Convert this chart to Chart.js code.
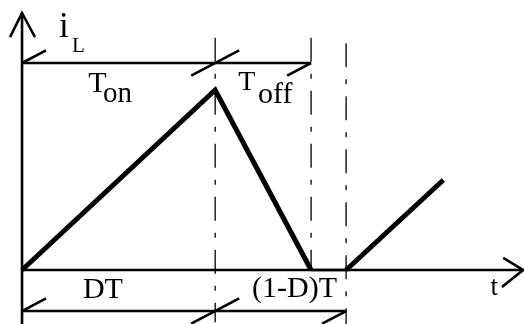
<!DOCTYPE html>
<html lang="en">
  <head>
    <meta charset="UTF-8" />
    <title>Inductor current, discontinuous mode</title>
    <style>
      html,
      body {
        margin: 0;
        padding: 0;
        background: #fff;
      }
      #wrap {
        width: 524px;
        height: 324px;
        position: relative;
      }
    </style>
  </head>
  <body>
    <div id="wrap"><canvas id="myChart"></canvas></div>

    <script src="https://cdn.jsdelivr.net/npm/chart.js@4.4.0/dist/chart.umd.min.js"></script>
    <script>
      // waveform of i_L (time in units of T, current in units of peak)
      var times = [0, 0.596, 0.892, 1.0, 1.3];
      var current = [0, 1, 0, 0, 0.5];

      // interval markers
      var D = 0.596;
      var tOff = 0.892;
      var T = 1.0;

      // dimension lines levels
      var topLevel = 1.15;
      var bottomLevel = -0.228;

      var sx = 0.074,
        sy = 0.07;

      function pts(xs, ys) {
        var out = [];
        for (var i = 0; i < xs.length; i++) {
          out.push({ x: xs[i], y: ys[i] });
        }
        return out;
      }

      function line(xs, ys, width, dash) {
        return {
          data: pts(xs, ys),
          showLine: true,
          borderColor: "#000",
          borderWidth: width,
          borderDash: dash || [],
          pointRadius: 0,
          fill: false,
          tension: 0,
          borderCapStyle: "butt",
          borderJoinStyle: "miter",
        };
      }

      var dashDot = [24, 12, 5, 12];

      var datasets = [
        // axes
        line([0, 0], [-0.3, 1.428], 2.6),
        line([-0.037, 0, 0.04], [1.294, 1.428, 1.294], 2.6),
        line([0, 1.546], [0, 0], 2.6),
        line([1.485, 1.546, 1.481], [0.067, 0, -0.094], 2.6),

        // dash-dot markers
        line([D, D], [1.29, -0.29], 1.3, dashDot),
        line([tOff, tOff], [1.29, 0], 1.3, dashDot),
        line([T, T], [1.26, -0.3], 1.3, dashDot),

        // top dimension: Ton / Toff
        line([0, tOff], [topLevel, topLevel], 2.4),
        line([0, sx], [topLevel, topLevel + sy], 2.6),
        line([D - sx, D + sx], [topLevel - sy, topLevel + sy], 2.6),
        line([tOff - sx, tOff], [topLevel - sy, topLevel], 2.6),

        // bottom dimension: DT / (1-D)T
        line([0, T], [bottomLevel, bottomLevel], 2.4),
        line([0, sx], [bottomLevel, bottomLevel + sy], 2.6),
        line([D - sx, D + sx], [bottomLevel - sy, bottomLevel + sy], 2.6),
        line([T - sx, T], [bottomLevel - sy, bottomLevel], 2.6),
      ];

      // the waveform itself, thick on the ramps
      var wave = line(times, current, 5);
      wave.segment = {
        borderWidth: function (ctx) {
          return ctx.p0.parsed.y === 0 && ctx.p1.parsed.y === 0 ? 2.6 : 5;
        },
      };
      datasets.push(wave);

      // text labels, placed in data units
      var labels = [
        { text: "i", x: 0.114, y: 1.294, size: 35 },
        { text: "L", x: 0.154, y: 1.211, size: 21 },
        { text: "T", x: 0.204, y: 0.989, size: 30 },
        { text: "on", x: 0.25, y: 0.933, size: 29 },
        { text: "T", x: 0.667, y: 1.0, size: 28 },
        { text: "off", x: 0.728, y: 0.928, size: 30 },
        { text: "DT", x: 0.188, y: -0.156, size: 30 },
        { text: "(1-D)T", x: 0.71, y: -0.15, size: 30 },
        { text: "t", x: 1.446, y: -0.139, size: 27 },
      ];

      var textPlugin = {
        id: "texts",
        afterDatasetsDraw: function (chart) {
          var ctx = chart.ctx;
          var xs = chart.scales.x;
          var ys = chart.scales.y;
          ctx.save();
          ctx.fillStyle = "#000";
          ctx.textAlign = "left";
          ctx.textBaseline = "alphabetic";
          labels.forEach(function (l) {
            ctx.font = l.size + "px 'Liberation Serif', 'DejaVu Serif', serif";
            ctx.fillText(l.text, xs.getPixelForValue(l.x), ys.getPixelForValue(l.y));
          });
          ctx.restore();
        },
      };

      var ctx = document.getElementById("myChart").getContext("2d");
      new Chart(ctx, {
        type: "scatter",
        data: { datasets: datasets },
        options: {
          responsive: true,
          maintainAspectRatio: false,
          animation: false,
          devicePixelRatio: 1,
          layout: { padding: 0 },
          plugins: {
            legend: { display: false },
            tooltip: { enabled: false },
          },
          scales: {
            x: { type: "linear", min: -0.068, max: 1.549, display: false },
            y: { type: "linear", min: -0.3, max: 1.5, display: false },
          },
        },
        plugins: [textPlugin],
      });
    </script>
  </body>
</html>
